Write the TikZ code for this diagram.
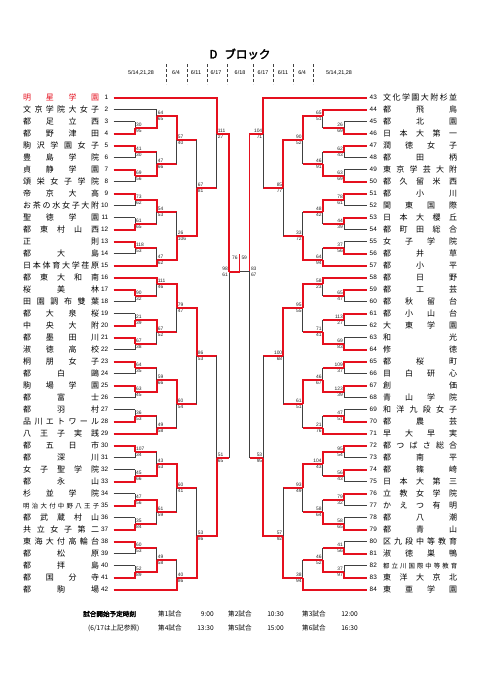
\documentclass[tikz,border=0pt]{standalone}
\usepackage{fontspec}
\setmainfont{Liberation Sans}
\newfontfamily\jp[AutoFakeBold=2.5]{Noto Sans CJK JP}
\usetikzlibrary{calc}
\definecolor{winc}{HTML}{E5101E}
\definecolor{losec}{HTML}{404040}
\tikzset{
  win/.style={draw=winc,line width=1.7pt},
  lose/.style={draw=losec,line width=0.75pt},
  score/.style={font=\fontsize{4.9}{5}\selectfont,inner sep=0.3pt,text=black!85},
  sup/.style={score,anchor=south west,xshift=0.6pt,yshift=0.6pt},
  sdn/.style={score,anchor=north west,xshift=0.6pt,yshift=-0.6pt},
  num/.style={font=\fontsize{6.4}{7}\selectfont,inner sep=0pt},
  tname/.style={font=\jp\fontsize{8}{8}\selectfont,inner sep=0pt},
  day/.style={font=\fontsize{5.4}{6}\selectfont,inner sep=0pt},
  foot/.style={font=\jp\fontsize{6.6}{7}\selectfont,inner sep=0pt,anchor=west}
}
\newcommand\sn{\fontsize{6.4}{7}\selectfont}
% name, upper in, lower in, x, y, upper score, lower score, upper line, lower line
\newcommand\game[9]{%
  \coordinate (#1) at (#4,#5);
  \ifnum#6>#7\relax
    \draw[#9] (#3) -- (#3 -| #1);
    \draw[lose] (#3 -| #1) -- (#1);
    \draw[win] (#2) -- (#2 -| #1) -- (#1);
  \else
    \draw[#8] (#2) -- (#2 -| #1);
    \draw[lose] (#2 -| #1) -- (#1);
    \draw[win] (#3) -- (#3 -| #1) -- (#1);
  \fi
  \node[sup] at (#1) {#6};
  \node[sdn] at (#1) {#7};
}

\begin{document}
\begin{tikzpicture}[x=1pt,y=-1pt]
\useasboundingbox (0,0) rectangle (481,680);
\fill[white] (0,0) rectangle (481,680);

% heading
\node[font=\jp\bfseries\fontsize{11.5}{12}\selectfont] (title) at (240,54) {D\hspace{7pt}ブロック};
\node[day] (d1) at (141,73) {5/14,21,28};
\node[day] (d2) at (176,73) {6/4};
\node[day] (d3) at (196,73) {6/11};
\node[day] (d4) at (216,73) {6/17};
\node[day] (d5) at (240,73) {6/18};
\node[day] (d6) at (263,73) {6/17};
\node[day] (d7) at (283,73) {6/11};
\node[day] (d8) at (302,73) {6/4};
\node[day] (d9) at (339,73) {5/14,21,28};
\foreach \xx in {165.7,186.7,206.7,226.7,253.3,273.3,293.3,313.3}
  \draw[losec,line width=0.4pt,densely dashed] (\xx,64) -- (\xx,84);

% teams, left
\foreach \nm [count=\i] in {明 星 学 園,文 京 学 院 大 女 子,都 足 立 西,都 野 津 田,駒 沢 学 園 女 子,豊 島 学 院,貞 静 学 園,頌 栄 女 子 学 院,帝 京 大 高,お 茶 の 水 女 子 大 附,聖 徳 学 園,都 東 村 山 西,正 則,都 大 島,日 本 体 育 大 学 荏 原,都 東 大 和 南,桜 美 林,田 園 調 布 雙 葉,都 大 泉 桜,中 央 大 附,都 墨 田 川,淑 徳 高 校,桐 朋 女 子,都 白 鷗,駒 場 学 園,都 富 士,都 羽 村,品 川 エ ト ワ ー ル,八 王 子 実 践,都 五 日 市,都 深 川,女 子 聖 学 院,都 永 山,杉 並 学 院,\sn 明 治 大 付 中 野 八 王 子,都 武 蔵 村 山,共 立 女 子 第 二,東 海 大 付 高 輪 台,都 松 原,都 拝 島,都 国 分 寺,都 駒 場}{
  \pgfmathsetmacro\yy{97.7+12*(\i-1)}
  \ifnum\i=1 \def\tc{winc}\else\def\tc{black}\fi
  \node[tname,text=\tc,anchor=west] (n\i) at (23,\yy) {\makebox[76pt][s]{\nm}};
  \node[num,anchor=east] (k\i) at (108.5,\yy) {\i};
  \coordinate (e\i) at (113.5,\yy);
}
% teams, right
\foreach \nm [count=\j from 43] in {文 化 学 園 大 附 杉 並,都 飛 鳥,都 北 園,日 本 大 第 一,潤 徳 女 子,都 田 柄,東 京 学 芸 大 附,都 久 留 米 西,都 小 川,関 東 国 際,日 本 大 櫻 丘,都 町 田 総 合,女 子 学 院,都 井 草,都 小 平,都 日 野,都 工 芸,都 秋 留 台,都 小 山 台,大 東 学 園,和 光,修 徳,都 桜 町,目 白 研 心,創 価,青 山 学 院,和 洋 九 段 女 子,都 農 芸,早 大 早 実,都 つ ば さ 総 合,都 南 平,都 篠 崎,日 本 大 第 三,立 教 女 学 院,か え つ 有 明,都 八 潮,都 青 山,区 九 段 中 等 教 育,淑 徳 巣 鴨,\sn 都 立 川 国 際 中 等 教 育,東 洋 大 京 北,東 亜 学 園}{
  \pgfmathsetmacro\yy{97.7+12*(\j-43)}
  \node[tname,anchor=west] (n\j) at (383,\yy) {\makebox[74pt][s]{\nm}};
  \node[num,anchor=west] (k\j) at (369.5,\yy) {\j};
  \coordinate (e\j) at (366.7,\yy);
}

% left half
\game{a1}{e3}{e4}{135}{127.7}{30}{95}{lose}{lose}
\game{a2}{e5}{e6}{135}{151.7}{41}{30}{lose}{lose}
\game{a3}{e7}{e8}{135}{175.7}{69}{56}{lose}{lose}
\game{a4}{e9}{e10}{135}{199.7}{73}{62}{lose}{lose}
\game{a5}{e11}{e12}{135}{223.7}{61}{65}{lose}{lose}
\game{a6}{e13}{e14}{135}{247.7}{118}{53}{lose}{lose}
\game{a7}{e17}{e18}{135}{295.7}{90}{32}{lose}{lose}
\game{a8}{e19}{e20}{135}{319.7}{21}{39}{lose}{lose}
\game{a9}{e21}{e22}{135}{343.7}{67}{38}{lose}{lose}
\game{a10}{e23}{e24}{135}{367.7}{64}{35}{lose}{lose}
\game{a11}{e25}{e26}{135}{391.7}{63}{45}{lose}{lose}
\game{a12}{e27}{e28}{135}{415.7}{36}{53}{lose}{lose}
\game{a13}{e30}{e31}{135}{451.7}{107}{34}{lose}{lose}
\game{a14}{e32}{e33}{135}{475.7}{45}{66}{lose}{lose}
\game{a15}{e34}{e35}{135}{499.7}{47}{56}{lose}{lose}
\game{a16}{e36}{e37}{135}{523.7}{35}{84}{lose}{lose}
\game{a17}{e38}{e39}{135}{547.7}{60}{53}{lose}{lose}
\game{a18}{e40}{e41}{135}{571.7}{52}{89}{lose}{lose}
\game{b1}{e2}{a1}{156.7}{115.7}{64}{65}{lose}{win}
\game{b2}{a2}{a3}{156.7}{163.7}{47}{66}{win}{win}
\game{b3}{a4}{a5}{156.7}{211.7}{54}{53}{win}{win}
\game{b4}{a6}{e15}{156.7}{259.7}{47}{62}{win}{lose}
\game{b5}{e16}{a7}{156.7}{283.7}{111}{46}{lose}{win}
\game{b6}{a8}{a9}{156.7}{331.7}{67}{52}{win}{win}
\game{b7}{a10}{a11}{156.7}{379.7}{59}{66}{win}{win}
\game{b8}{a12}{e29}{156.7}{427.7}{49}{58}{win}{lose}
\game{b9}{a13}{a14}{156.7}{463.7}{43}{53}{win}{win}
\game{b10}{a15}{a16}{156.7}{511.7}{61}{59}{win}{win}
\game{b11}{a17}{a18}{156.7}{559.7}{49}{58}{win}{win}
\game{c1}{b1}{b2}{176.7}{139.7}{57}{40}{win}{win}
\game{c2}{b3}{b4}{176.7}{235.7}{26}{106}{win}{win}
\game{c3}{b5}{b6}{176.7}{307.7}{79}{47}{win}{win}
\game{c4}{b7}{b8}{176.7}{403.7}{60}{54}{win}{win}
\game{c5}{b9}{b10}{176.7}{487.7}{60}{41}{win}{win}
\game{c6}{b11}{e42}{176.7}{577.7}{40}{86}{win}{lose}
\game{d1}{c1}{c2}{196.7}{187.7}{67}{81}{win}{win}
\game{d2}{c3}{c4}{196.7}{355.7}{86}{53}{win}{win}
\game{d3}{c5}{c6}{196.7}{535.7}{53}{86}{win}{win}
\game{f1}{e1}{d1}{216.7}{133.7}{111}{27}{lose}{win}
\game{f2}{d2}{d3}{216.7}{457.7}{51}{65}{win}{win}
\begin{scope}[sup/.style={score,anchor=south east,xshift=-1pt,yshift=0.6pt},sdn/.style={score,anchor=north east,xshift=-1pt,yshift=-0.6pt}]
\game{LS}{f1}{f2}{229.3}{271.7}{98}{61}{win}{win}
\end{scope}

% right half
\begin{scope}[sup/.style={score,anchor=south east,xshift=-0.6pt,yshift=0.6pt},sdn/.style={score,anchor=north east,xshift=-0.6pt,yshift=-0.6pt}]
\game{p1}{e45}{e46}{344}{127.7}{26}{69}{lose}{lose}
\game{p2}{e47}{e48}{344}{151.7}{62}{43}{lose}{lose}
\game{p3}{e49}{e50}{344}{175.7}{63}{69}{lose}{lose}
\game{p4}{e51}{e52}{344}{199.7}{78}{61}{lose}{lose}
\game{p5}{e53}{e54}{344}{223.7}{44}{39}{lose}{lose}
\game{p6}{e55}{e56}{344}{247.7}{37}{56}{lose}{lose}
\game{p7}{e59}{e60}{344}{295.7}{65}{47}{lose}{lose}
\game{p8}{e61}{e62}{344}{319.7}{113}{27}{lose}{lose}
\game{p9}{e63}{e64}{344}{343.7}{69}{83}{lose}{lose}
\game{p10}{e65}{e66}{344}{367.7}{109}{37}{lose}{lose}
\game{p11}{e67}{e68}{344}{391.7}{123}{39}{lose}{lose}
\game{p12}{e69}{e70}{344}{415.7}{47}{51}{lose}{lose}
\game{p13}{e72}{e73}{344}{451.7}{95}{54}{lose}{lose}
\game{p14}{e74}{e75}{344}{475.7}{56}{43}{lose}{lose}
\game{p15}{e76}{e77}{344}{499.7}{79}{32}{lose}{lose}
\game{p16}{e78}{e79}{344}{523.7}{58}{65}{lose}{lose}
\game{p17}{e80}{e81}{344}{547.7}{41}{56}{lose}{lose}
\game{p18}{e82}{e83}{344}{571.7}{37}{97}{lose}{lose}
\game{q1}{e44}{p1}{322.7}{115.7}{65}{51}{lose}{win}
\game{q2}{p2}{p3}{322.7}{163.7}{46}{91}{win}{win}
\game{q3}{p4}{p5}{322.7}{211.7}{48}{42}{win}{win}
\game{q4}{p6}{e57}{322.7}{259.7}{64}{94}{win}{lose}
\game{q5}{e58}{p7}{322.7}{283.7}{58}{23}{lose}{win}
\coordinate (q6) at (322.7,331.7);
\draw[lose] (p8 -| q6) -- (q6);
\draw[win] (p8) -- (p8 -| q6) (p9) -- (p9 -| q6) -- (q6);
\node[sup] at (q6) {71};
\node[sdn] at (q6) {41};
\game{q7}{p10}{p11}{322.7}{379.7}{46}{67}{win}{win}
\game{q8}{p12}{e71}{322.7}{427.7}{21}{76}{win}{lose}
\game{q9}{p13}{p14}{322.7}{463.7}{104}{43}{win}{win}
\game{q10}{p15}{p16}{322.7}{511.7}{58}{64}{win}{win}
\game{q11}{p17}{p18}{322.7}{559.7}{46}{52}{win}{win}
\game{r1}{q1}{q2}{302.7}{139.7}{90}{52}{win}{win}
\game{r2}{q3}{q4}{302.7}{235.7}{33}{72}{win}{win}
\game{r3}{q5}{q6}{302.7}{307.7}{95}{55}{win}{win}
\game{r4}{q7}{q8}{302.7}{403.7}{61}{51}{win}{win}
\game{r5}{q9}{q10}{302.7}{487.7}{93}{49}{win}{win}
\game{r6}{q11}{e84}{302.7}{577.7}{38}{94}{win}{lose}
\game{s1}{r1}{r2}{283.3}{187.7}{85}{77}{win}{win}
\game{s2}{r3}{r4}{283.3}{355.7}{100}{68}{win}{win}
\game{s3}{r5}{r6}{283.3}{535.7}{57}{92}{win}{win}
\game{u1}{e43}{s1}{263.3}{133.7}{104}{71}{lose}{win}
\game{u2}{s2}{s3}{263.3}{457.7}{53}{95}{win}{win}
\end{scope}
\begin{scope}[sup/.style={score,anchor=south west,xshift=1pt,yshift=0.6pt},sdn/.style={score,anchor=north west,xshift=1pt,yshift=-0.6pt}]
\game{RS}{u1}{u2}{249.5}{271.7}{83}{67}{win}{win}
\end{scope}

% final
\coordinate (F) at (239.5,271.7);
\coordinate (champ) at (239.5,254);
\draw[lose] (RS) -- (F);
\draw[win] (LS) -- (F) -- (champ);
\node[score,anchor=north east] at ($(champ)+(-1.5,1.5)$) {76};
\node[score,anchor=north west] at ($(champ)+(1.5,1.5)$) {59};

% start times
\node[foot,font=\jp\bfseries\fontsize{6.6}{7}\selectfont] (ft) at (83,614) {試合開始予定時刻};
\node[foot] (ref) at (88,628) {(6/17は上記参照)};
\foreach \g/\t/\xx in {1/9:00/158,2/10:30/228,3/12:00/302}{
  \node[foot] at (\xx,614) {第\g 試合};
  \node[foot,anchor=east] at (\xx+56,614) {\t};
}
\foreach \g/\t/\xx in {4/13:30/158,5/15:00/228,6/16:30/302}{
  \node[foot] at (\xx,628) {第\g 試合};
  \node[foot,anchor=east] at (\xx+56,628) {\t};
}
\end{tikzpicture}
\end{document}
